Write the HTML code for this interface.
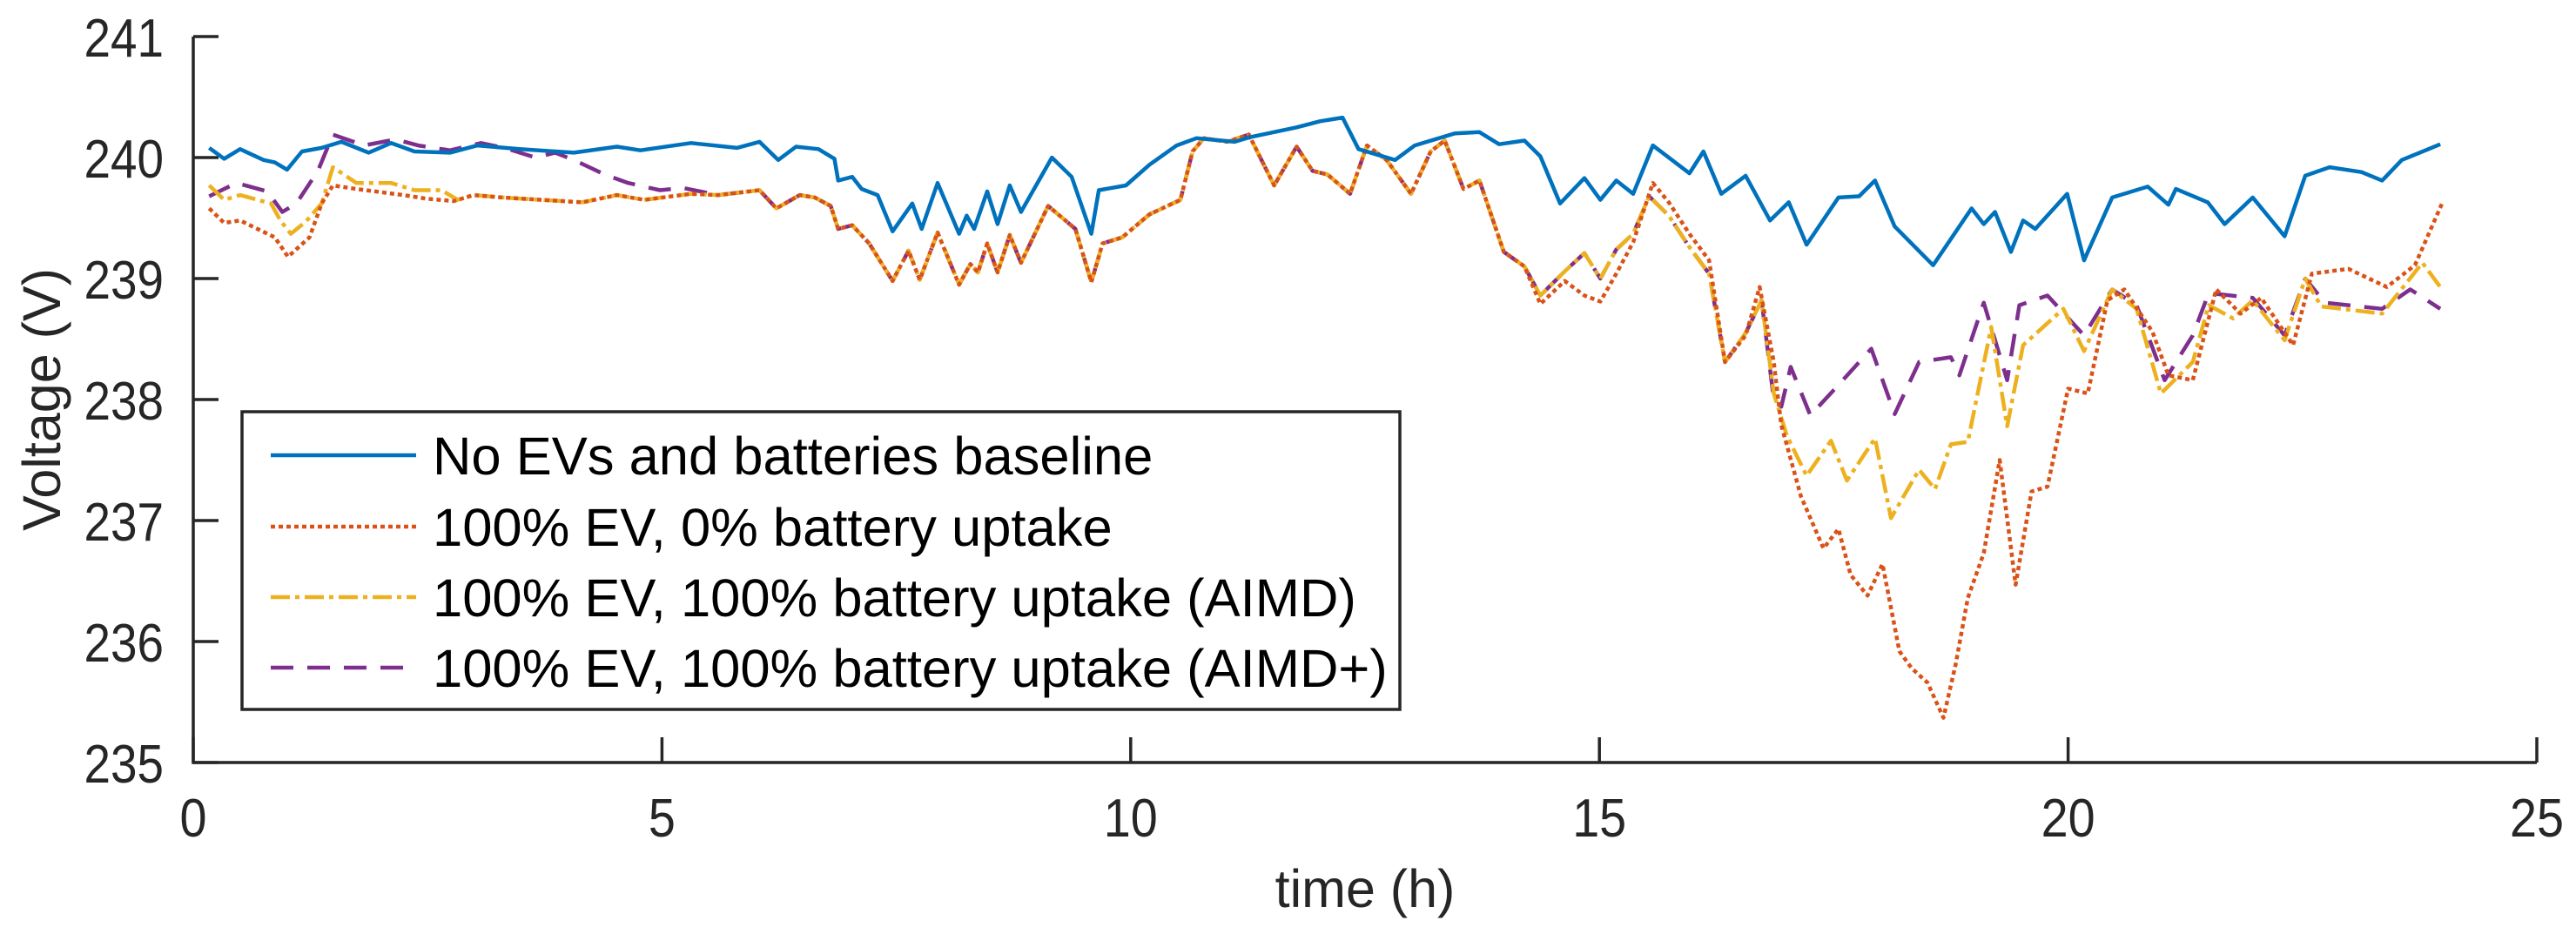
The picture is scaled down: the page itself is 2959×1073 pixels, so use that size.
<!DOCTYPE html>
<html><head><meta charset="utf-8"><style>
html,body{margin:0;padding:0;background:#fff;}
svg{display:block;font-family:"Liberation Sans",Arial,sans-serif;}
</style></head><body>
<svg id="chart" width="2959" height="1073" viewBox="0 0 2959 1073" xmlns="http://www.w3.org/2000/svg">
<g id="axes"></g>
<g id="series"></g>
<g id="legend"></g>
</svg>
<script>
const xTicks=[0,5,10,15,20,25];
const yTicks=[235,236,237,238,239,240,241];
const seriesNames=["No EVs and batteries baseline","100% EV, 0% battery uptake","100% EV, 100% battery uptake (AIMD)","100% EV, 100% battery uptake (AIMD+)"];
const baseT=[0.17,0.33,0.5,0.75,0.87,1.0,1.16,1.37,1.58,1.87,2.11,2.36,2.74,3.03,3.48,4.06,4.52,4.77,5.31,5.8,6.04,6.24,6.43,6.67,6.84,6.88,7.03,7.13,7.3,7.46,7.67,7.77,7.94,8.17,8.25,8.33,8.47,8.58,8.71,8.83,9.16,9.37,9.58,9.66,9.95,10.2,10.49,10.7,11.11,11.28,11.77,12.02,12.26,12.43,12.82,13.03,13.46,13.72,13.93,14.2,14.37,14.58,14.84,15.01,15.18,15.36,15.57,15.96,16.11,16.3,16.56,16.82,17.02,17.21,17.55,17.77,17.94,18.15,18.56,18.97,19.1,19.22,19.39,19.52,19.65,19.99,20.17,20.47,20.85,21.07,21.15,21.49,21.67,21.97,22.31,22.53,22.79,23.13,23.35,23.56,23.97];
const baseV=[240.08,239.99,240.07,239.98,239.96,239.9,240.05,240.08,240.13,240.04,240.12,240.05,240.04,240.1,240.07,240.04,240.09,240.06,240.12,240.08,240.13,239.98,240.09,240.07,239.99,239.81,239.84,239.74,239.69,239.39,239.62,239.41,239.79,239.37,239.52,239.41,239.72,239.45,239.77,239.55,240.0,239.84,239.37,239.73,239.77,239.94,240.1,240.16,240.13,240.17,240.25,240.3,240.33,240.07,239.98,240.1,240.2,240.21,240.11,240.14,240.01,239.62,239.83,239.65,239.81,239.7,240.1,239.87,240.05,239.7,239.85,239.48,239.63,239.28,239.67,239.68,239.81,239.43,239.11,239.58,239.45,239.55,239.22,239.48,239.41,239.7,239.15,239.67,239.76,239.61,239.74,239.63,239.45,239.67,239.35,239.85,239.92,239.88,239.81,239.98,240.11];
const ev0T=[0.17,0.33,0.5,0.87,1.01,1.24,1.37,1.49,1.74,2.24,2.49,2.78,2.99,3.3,4.15,4.52,4.81,5.31,5.6,6.04,6.22,6.47,6.63,6.8,6.88,7.03,7.21,7.46,7.63,7.75,7.94,8.17,8.29,8.37,8.47,8.58,8.71,8.83,9.12,9.41,9.58,9.7,9.91,10.2,10.53,10.66,10.78,11.03,11.26,11.53,11.77,11.94,12.1,12.34,12.52,12.73,12.99,13.2,13.35,13.55,13.72,13.98,14.2,14.37,14.63,14.84,15.01,15.18,15.36,15.57,15.74,15.96,16.17,16.34,16.56,16.71,16.86,16.94,17.15,17.39,17.55,17.68,17.86,18.02,18.2,18.33,18.5,18.67,18.8,18.93,19.1,19.27,19.44,19.61,19.78,20.0,20.21,20.42,20.6,20.9,21.07,21.33,21.58,21.84,22.06,22.4,22.6,22.99,23.4,23.7,24.0];
const ev0V=[239.58,239.46,239.48,239.34,239.18,239.34,239.62,239.77,239.74,239.69,239.66,239.64,239.69,239.67,239.63,239.69,239.65,239.7,239.69,239.73,239.58,239.69,239.67,239.6,239.41,239.44,239.29,238.98,239.23,238.99,239.38,238.95,239.12,239.05,239.29,239.05,239.36,239.13,239.6,239.41,238.97,239.29,239.34,239.53,239.65,240.05,240.16,240.13,240.19,239.77,240.09,239.89,239.86,239.7,240.1,239.98,239.7,240.05,240.14,239.74,239.81,239.22,239.1,238.79,238.98,238.86,238.81,239.04,239.3,239.79,239.63,239.37,239.15,238.31,238.53,238.93,238.31,237.79,237.2,236.77,236.93,236.55,236.38,236.64,235.92,235.78,235.66,235.37,235.81,236.36,236.73,237.5,236.47,237.24,237.28,238.09,238.05,238.82,238.91,238.56,238.2,238.16,238.91,238.71,238.84,238.45,239.04,239.08,238.93,239.11,239.64];
const aimdT=[0.17,0.33,0.5,0.83,0.93,1.04,1.2,1.37,1.49,1.74,2.11,2.36,2.65,2.82,2.99,3.3,4.15,4.52,4.81,5.31,5.6,6.04,6.22,6.47,6.63,6.8,6.88,7.03,7.21,7.46,7.63,7.75,7.94,8.17,8.29,8.37,8.47,8.58,8.71,8.83,9.12,9.41,9.58,9.7,9.91,10.2,10.53,10.66,10.78,11.03,11.26,11.53,11.77,11.94,12.1,12.34,12.52,12.73,12.99,13.2,13.35,13.55,13.72,13.98,14.2,14.37,14.63,14.84,15.01,15.18,15.36,15.53,15.74,15.96,16.17,16.34,16.56,16.73,16.86,17.0,17.21,17.47,17.64,17.94,18.11,18.41,18.58,18.75,18.93,19.18,19.35,19.52,19.95,20.17,20.47,20.73,20.99,21.33,21.5,21.76,21.97,22.31,22.53,22.7,23.35,23.78,23.97];
const aimdV=[239.77,239.65,239.69,239.62,239.48,239.37,239.47,239.62,239.92,239.79,239.79,239.73,239.73,239.65,239.69,239.67,239.63,239.69,239.65,239.7,239.69,239.73,239.58,239.69,239.67,239.6,239.41,239.44,239.29,238.98,239.23,238.99,239.38,238.95,239.12,239.05,239.29,239.05,239.36,239.13,239.6,239.41,238.97,239.29,239.34,239.53,239.65,240.05,240.16,240.13,240.19,239.77,240.09,239.89,239.86,239.7,240.1,239.98,239.7,240.05,240.14,239.74,239.81,239.22,239.1,238.86,239.06,239.21,239.0,239.24,239.37,239.68,239.52,239.26,239.04,238.31,238.55,238.82,238.05,237.7,237.37,237.66,237.33,237.68,237.02,237.42,237.26,237.63,237.65,238.6,237.78,238.45,238.75,238.4,238.91,238.75,238.05,238.31,238.78,238.67,238.82,238.49,239.0,238.77,238.71,239.13,238.93];
const aimdPT=[0.17,0.46,0.79,0.95,1.1,1.33,1.49,1.82,2.16,2.4,2.74,3.07,3.32,3.65,3.86,4.06,4.39,4.64,4.98,5.22,5.6,6.04,6.22,6.47,6.63,6.8,6.88,7.03,7.21,7.46,7.63,7.75,7.94,8.17,8.29,8.37,8.47,8.58,8.71,8.83,9.12,9.41,9.58,9.7,9.91,10.2,10.53,10.66,10.78,11.03,11.26,11.53,11.77,11.94,12.1,12.34,12.52,12.73,12.99,13.2,13.35,13.55,13.72,13.98,14.2,14.37,14.63,14.84,15.01,15.18,15.36,15.53,15.74,15.96,16.17,16.34,16.56,16.73,16.86,16.94,17.04,17.25,17.55,17.9,18.15,18.41,18.75,18.84,19.1,19.35,19.48,19.78,20.17,20.47,20.73,21.03,21.33,21.5,21.97,22.31,22.53,22.74,23.35,23.65,23.97];
const aimdPV=[239.68,239.79,239.72,239.55,239.62,239.89,240.19,240.1,240.15,240.1,240.06,240.12,240.08,240.0,240.04,239.98,239.86,239.79,239.73,239.75,239.69,239.73,239.58,239.69,239.67,239.6,239.41,239.44,239.29,238.98,239.23,238.99,239.38,238.95,239.12,239.05,239.29,239.05,239.36,239.13,239.6,239.41,238.97,239.29,239.34,239.53,239.65,240.05,240.16,240.13,240.19,239.77,240.09,239.89,239.86,239.7,240.1,239.98,239.7,240.05,240.14,239.74,239.81,239.22,239.1,238.86,239.06,239.21,239.0,239.24,239.37,239.68,239.52,239.26,239.04,238.31,238.55,238.82,238.0,237.94,238.27,237.87,238.12,238.42,237.88,238.31,238.35,238.2,238.8,238.16,238.78,238.86,238.53,238.91,238.78,238.16,238.53,238.88,238.84,238.53,239.0,238.8,238.75,238.91,238.75];

const X0=222,X1=2914,Y0=876,Y1=42;
const sx=t=>X0+(t-0)/(25-0)*(X1-X0);
const sy=v=>Y0-(v-235)/(241-235)*(Y0-Y1);
const NS="http://www.w3.org/2000/svg";
function mk(tag,attrs,parent){const e=document.createElementNS(NS,tag);for(const k in attrs)e.setAttribute(k,attrs[k]);parent.appendChild(e);return e;}
const axes=document.getElementById('axes');
const AX="#262626";
let a=mk('path',{d:`M${X0},${Y1}V${Y0}H${X1}`,fill:'none',stroke:AX,'stroke-width':3.5},axes);


yTicks.forEach(v=>{
 const y=sy(v);
 const tk=mk('line',{x1:X0,x2:X0+29,y1:y,y2:y,stroke:AX,'stroke-width':3.5},axes);
 
 
 const s=String(v);
 const tx=mk('text',{x:188,y:y+23,'text-anchor':'end','font-size':62,fill:AX,textLength:30.5*s.length,lengthAdjust:'spacingAndGlyphs'},axes);
 tx.textContent=s;
 
 
});
xTicks.forEach(t=>{
 const x=sx(t);
 const tk=mk('line',{x1:x,x2:x,y1:Y0,y2:Y0-29,stroke:AX,'stroke-width':3.5},axes);
 
 
 const s=String(t);
 const tx=mk('text',{x:x,y:961,'text-anchor':'middle','font-size':62,fill:AX,textLength:31*s.length,lengthAdjust:'spacingAndGlyphs'},axes);
 tx.textContent=s;
 
 
});
let xl=mk('text',{x:(X0+X1)/2,y:1042,'text-anchor':'middle','font-size':61,fill:AX},axes);
xl.textContent='time (h)';


let yl=mk('text',{x:0,y:0,'text-anchor':'middle','font-size':61,fill:AX,transform:'translate(69,459) rotate(-90)'},axes);
yl.textContent='Voltage (V)';



const styles=[
 {c:'#0072BD',d:'',n:'baseline-line'},
 {c:'#D95319',d:'5 4',n:'ev-0-battery-line'},
 {c:'#EDB120',d:'22 6 5 6',n:'aimd-line'},
 {c:'#7E2F8E',d:'26 16',n:'aimd-plus-line'}];
const data=[[baseT,baseV],[ev0T,ev0V],[aimdT,aimdV],[aimdPT,aimdPV]];
const sg=document.getElementById('series');
[3,2,1,0].forEach(i=>{
 const [T,V]=data[i];
 const d=T.map((t,j)=>(j?'L':'M')+sx(t).toFixed(1)+','+sy(V[j]).toFixed(1)).join('');
 const p=mk('path',{d:d,fill:'none',stroke:styles[i].c,'stroke-width':4.5,'stroke-dasharray':styles[i].d,'stroke-linejoin':'round'},sg);
 
 
});
const lg=document.getElementById('legend');
let box=mk('rect',{x:278,y:473,width:1330,height:342,fill:'#fff',stroke:AX,'stroke-width':3.5},lg);


const rowsY=[523,605,686,767];
seriesNames.forEach((nm,i)=>{
 const ln=mk('line',{x1:311,x2:478,y1:rowsY[i],y2:rowsY[i],stroke:styles[i].c,'stroke-width':4.5,'stroke-dasharray':styles[i].d},lg);
 
 
 const tx=mk('text',{x:497,y:rowsY[i]+22,'font-size':61.5,fill:'#000'},lg);
 tx.textContent=nm;
 
 
});
</script>
</body></html>
